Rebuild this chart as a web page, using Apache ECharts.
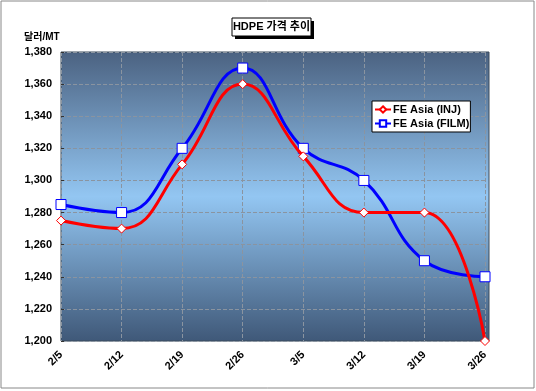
<!DOCTYPE html>
<html><head><meta charset="utf-8">
<script src="https://cdn.jsdelivr.net/npm/echarts@6/dist/echarts.min.js"></script>
<style>html,body{margin:0;padding:0;background:#fff}#c{width:536px;height:391px}</style>
</head><body><div id="c"></div>
<script>
const categories = ['2/5','2/12','2/19','2/26','3/5','3/12','3/19','3/26'];
const injValues = [1275, 1270, 1310, 1360, 1315, 1280, 1280, 1200];
const filmValues = [1285, 1280, 1320, 1370, 1320, 1300, 1250, 1240];
const seriesNames = ['FE Asia (INJ)', 'FE Asia (FILM)'];
const titleText = 'HDPE 가격 추이';
const unitText = '달러/MT';

const chart = echarts.init(document.getElementById('c'));
const font = '"Liberation Sans", Arial, "Noto Sans CJK KR", sans-serif';
chart.setOption({
  animation: false,
  backgroundColor: '#fff',
  textStyle: { fontFamily: font },
  graphic: [
    { type: 'rect', shape: { x: 1, y: 1, width: 533, height: 387 }, style: { fill: 'none', stroke: '#888', lineWidth: 1 }, z: -10 },
    { type: 'rect', shape: { x: 61, y: 52, width: 428, height: 289 },
      style: { stroke: '#3a4a5a', lineWidth: 1,
        fill: new echarts.graphic.LinearGradient(0, 0, 0, 1, [
          { offset: 0, color: '#4b6281' },
          { offset: 0.5, color: '#93c6f2' },
          { offset: 1, color: '#3f5878' }
        ]) }, z: -5 },
    { type: 'rect', shape: { x: 235, y: 21, width: 79, height: 18 }, style: { fill: '#000' }, z: 5 },
    { type: 'rect', shape: { x: 232, y: 18, width: 79, height: 18 }, style: { fill: '#fff', stroke: '#000', lineWidth: 1 }, z: 6 },
    { type: 'text', x: 271.5, y: 27, style: { text: titleText, font: 'bold 11px ' + font, fill: '#000', align: 'center', verticalAlign: 'middle' }, z: 7 },
    { type: 'text', x: 24, y: 37, style: { text: unitText, font: 'bold 10px ' + font, fill: '#000', align: 'left', verticalAlign: 'middle' }, z: 7 }
  ],
  grid: { left: 61, top: 52, right: 51, bottom: 50, containLabel: false },
  legend: {
    orient: 'vertical', left: 372, top: 101,
    backgroundColor: '#fff', borderColor: '#000', borderWidth: 1, borderRadius: 0,
    padding: [3, 1, 3, 2], itemGap: 3, itemWidth: 16, itemHeight: 8,
    textStyle: { fontFamily: font, fontSize: 11, fontWeight: 'bold', color: '#000', padding: [0, 0, 0, -3] },
    data: seriesNames
  },
  xAxis: {
    type: 'category', data: categories, boundaryGap: false,
    axisLine: { show: false },
    axisTick: { show: false },
    axisLabel: { rotate: 45, fontSize: 11, fontWeight: 'bold', color: '#000', margin: 12, fontFamily: font },
    splitLine: { show: true, lineStyle: { color: '#8a94a0', width: 1, type: 'dashed' } }
  },
  yAxis: {
    type: 'value', min: 1200, max: 1380, interval: 20,
    axisLine: { show: false },
    axisTick: { show: true, inside: true, length: 3, lineStyle: { color: '#333' } },
    axisLabel: { fontSize: 11, fontWeight: 'bold', color: '#000', margin: 9, fontFamily: font,
      formatter: v => v.toLocaleString('en-US') },
    splitLine: { show: true, lineStyle: { color: '#8a94a0', width: 1, type: 'dashed' } }
  },
  series: [
    { name: seriesNames[0], type: 'line', data: injValues, smooth: 0.45,
      symbol: 'diamond', symbolSize: 9,
      lineStyle: { color: '#ff0000', width: 3 },
      itemStyle: { color: '#fff', borderColor: '#ff0000', borderWidth: 1 }, z: 3 },
    { name: seriesNames[1], type: 'line', data: filmValues, smooth: 0.45,
      symbol: 'rect', symbolSize: 10,
      lineStyle: { color: '#0000ff', width: 3 },
      itemStyle: { color: '#fff', borderColor: '#0000ff', borderWidth: 1 }, z: 2 }
  ]
});
</script></body></html>
